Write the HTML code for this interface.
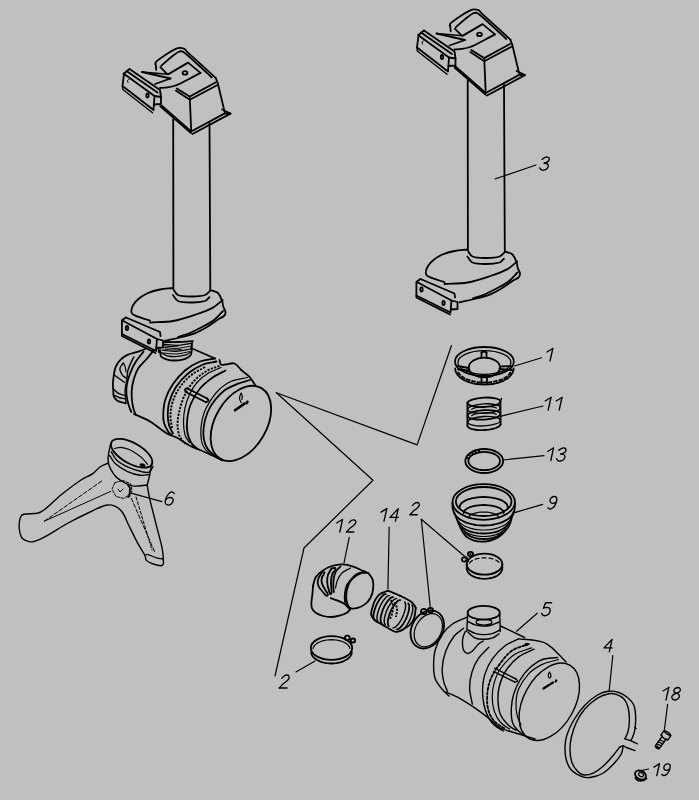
<!DOCTYPE html>
<html><head><meta charset="utf-8">
<style>
html,body{margin:0;padding:0;background:#c0c0c0;}
body{width:699px;height:800px;overflow:hidden;}
svg{display:block;}
.l{fill:none;stroke:#000;stroke-width:1.8;stroke-linejoin:round;stroke-linecap:round;}
.m{fill:none;stroke:#000;stroke-width:1.4;stroke-linejoin:round;stroke-linecap:round;}
.g{fill:none;stroke:#000;stroke-width:1.35;stroke-linejoin:round;stroke-linecap:round;}
.t{fill:none;stroke:#000;stroke-width:1.2;stroke-linecap:round;stroke-linejoin:round;}
.h{fill:none;stroke:#000;stroke-width:1;stroke-linecap:round;}
.d{fill:none;stroke:#000;stroke-width:1.9;stroke-dasharray:2.2 1.3;}
.f{fill:#000;stroke:none;}
.n{font-family:"Liberation Sans",sans-serif;font-style:italic;fill:#111;}
</style></head>
<body>
<svg width="699" height="800" viewBox="0 0 699 800">
<defs><g id="col">
<path class="l" d="M155.2,64.1 C155.5,63.3 155.5,62.2 156.2,61.6 C160.5,58.1 165.2,55.0 170.0,52.0 C172.5,50.5 175.0,48.9 177.8,48.2 C179.8,47.7 182.1,48.0 184.0,48.7 C185.4,49.2 186.0,50.8 187.1,51.8 C196.7,60.6 206.3,69.3 215.9,78.1"/>
<path class="l" d="M215.9,78.1 L217.0,81.5"/>
<path class="l" d="M161.3,65.7 C164.9,62.6 168.3,59.4 172.0,56.5 C174.2,54.8 176.3,52.9 178.8,51.8 C180.1,51.2 181.8,51.1 183.0,51.8 C187.4,54.6 191.1,58.5 195.0,62.0 C200.7,67.1 206.2,72.3 211.8,77.5"/>
<path class="l" d="M155.7,64.1 L156.2,69.8"/>
<path class="l" d="M160.3,67.2 L167.0,73.9"/>
<path class="l" d="M168.0,74.4 L188.1,62.6 L200.5,72.9"/>
<path class="l" d="M200.5,72.9 C197.0,74.8 193.5,76.7 190.0,78.5 C187.0,80.1 184.0,81.8 180.9,83.2 C178.7,84.3 176.4,85.3 174.0,86.0 C171.9,86.6 169.7,87.0 167.5,87.3 C165.0,87.7 162.5,87.8 160.0,88.0"/>
<path class="l" d="M142.0,72.0 L170.5,78.5"/>
<path class="m" d="M142.0,72.0 L168.0,74.2"/>
<path class="l" d="M155.0,84.0 L170.5,78.5"/>
<ellipse class="l" cx="185.0" cy="72.9" rx="2.4" ry="1.7" transform="rotate(0.0 185.0 72.9)"/>
<path class="l" d="M176.8,88.4 L189.6,96.6 L215.9,82.2"/>
<path class="l" d="M175.8,90.6 L189.8,99.7 L217.0,85.3"/>
<path class="l" d="M189.8,98.0 L191.2,131.0"/>
<path class="l" d="M217.6,82.5 L224.7,112.1"/>
<path class="l" d="M160.3,104.4 L191.2,131.4"/>
<path class="l" d="M160.3,106.2 L191.0,133.0"/>
<path class="l" d="M191.2,131.5 L224.7,113.4 L230.5,113.6 L192.5,134.0"/>
<path class="l" d="M222.1,109.5 L230.5,113.6"/>
<path class="l" d="M129.5,69.0 L160.0,90.0 L160.5,93.5"/>
<path class="l" d="M129.5,69.0 L124.0,73.5 L122.5,86.0 L153.5,110.0 L154.5,96.0 L123.5,73.5"/>
<path class="l" d="M126.5,71.0 L157.5,92.5"/>
<path class="m" d="M122.5,86.0 L122.8,89.5 L152.5,112.8"/>
<path class="l" d="M154.5,96.0 L161.0,97.0 L161.0,104.0 L154.0,104.5"/>
<path class="l" d="M161.0,97.0 L160.5,93.5"/>
<path class="h" d="M129.0,79.5 C128.5,79.8 127.7,79.9 127.5,80.5 C127.3,81.2 127.8,81.8 128.0,82.5"/>
<ellipse class="l" cx="147.5" cy="95.5" rx="1.2" ry="2.0" transform="rotate(0.0 147.5 95.5)"/>
<path class="l" d="M173.2,119.5 L173.4,288.0"/>
<path class="l" d="M209.5,123.5 L210.3,290.0"/>
<path class="l" d="M173.0,288.0 C168.7,288.5 164.3,288.6 160.0,289.5 C155.9,290.3 151.8,291.4 148.0,293.0 C144.8,294.4 141.8,296.3 139.0,298.5 C136.9,300.2 134.9,302.2 133.5,304.5 C132.3,306.4 131.4,308.6 131.3,310.9 C131.2,312.2 131.9,313.8 133.0,314.5 C136.7,316.7 141.0,317.6 145.0,319.0 C146.6,319.6 148.3,320.0 150.0,320.5"/>
<path class="l" d="M210.3,290.0 C212.9,291.0 216.0,291.1 218.0,293.0 C220.3,295.2 221.2,298.5 222.3,301.5 C222.9,303.0 222.7,304.8 223.2,306.4 C223.8,308.4 225.3,310.1 225.5,312.2 C225.6,313.6 225.0,315.0 224.0,316.0 C222.6,317.4 220.4,317.9 218.7,319.0 C214.7,321.6 211.0,324.6 207.0,327.0 C203.4,329.2 199.7,331.3 195.8,332.8 C190.7,334.8 185.3,336.1 180.0,337.5 C175.0,338.8 169.9,339.7 164.9,340.8"/>
<path class="l" d="M150.0,322.5 C157.7,322.0 165.4,322.3 173.0,321.0 C180.8,319.6 188.3,317.0 195.8,314.5 C201.7,312.5 207.6,310.5 213.0,307.6 C216.6,305.7 219.5,302.5 222.7,300.0"/>
<path class="l" d="M223.0,311.0 C220.0,314.0 217.4,317.4 214.0,320.0 C210.3,322.8 206.1,324.8 202.0,327.0 C198.1,329.1 194.1,331.3 190.0,333.0 C186.1,334.6 182.0,335.7 178.0,337.0"/>
<path class="l" d="M172.9,295.0 C174.6,297.0 175.6,300.0 178.0,301.0 C182.4,302.7 187.3,302.5 192.0,302.5 C196.4,302.5 200.8,302.2 205.0,301.0 C206.9,300.4 208.0,298.5 209.5,297.3"/>
<path class="l" d="M173.2,289.0 C174.8,291.0 175.6,294.1 178.0,295.0 C182.4,296.7 187.3,296.5 192.0,296.5 C196.4,296.5 200.8,296.3 205.0,295.0 C207.0,294.4 208.3,292.3 210.0,291.0"/>
<path class="l" d="M126.0,317.5 L160.0,332.0 L160.5,336.0"/>
<path class="l" d="M126.0,317.5 L121.9,320.3 L121.9,334.0 L156.0,351.0 L157.0,339.0 L121.9,320.3"/>
<path class="l" d="M121.9,334.0 L121.9,336.0 L155.5,353.0"/>
<path class="l" d="M157.0,339.0 L163.0,340.5 L163.0,347.5 L156.5,348.0"/>
<ellipse class="l" cx="127.0" cy="328.0" rx="1.2" ry="2.0" transform="rotate(0.0 127.0 328.0)"/>
<ellipse class="l" cx="149.0" cy="341.5" rx="1.2" ry="2.0" transform="rotate(0.0 149.0 341.5)"/>
</g></defs>
<use href="#col"/>
<use href="#col" transform="translate(294.5,-38.5)"/>
<path class="l" d="M164.6,342.0 C169.1,342.0 173.5,342.1 178.0,342.0 C183.0,341.9 187.9,341.5 192.9,341.2"/>
<path class="l" d="M160.3,353.2 C160.6,354.3 160.3,355.8 161.2,356.6 C162.8,358.1 165.1,358.9 167.2,359.6 C169.4,360.3 171.7,360.5 174.0,360.5 C176.9,360.5 179.8,360.3 182.6,359.6 C184.7,359.1 186.8,358.2 188.6,357.0 C189.7,356.3 190.9,355.3 191.2,354.0 C192.1,350.4 191.7,346.6 192.0,342.9"/>
<path class="t" d="M161.5,353.0 C163.4,353.9 165.1,355.3 167.2,355.8 C170.0,356.5 172.9,356.7 175.8,356.6 C179.2,356.4 182.7,355.9 186.0,354.9 C187.6,354.4 188.9,353.2 190.3,352.3"/>
<path class="t" d="M163.5,344.2 C167.7,344.6 171.8,345.5 176.0,345.4 C181.4,345.2 186.7,344.0 192.0,343.3"/>
<path class="h" d="M162.9,347.2 C167.3,347.6 171.6,348.6 176.0,348.4 C181.2,348.2 186.3,346.8 191.4,346.0"/>
<path class="t" d="M162.3,350.2 C166.9,350.6 171.4,351.6 176.0,351.4 C181.0,351.2 185.9,349.8 190.8,349.0"/>
<path class="h" d="M161.7,352.8 C166.5,353.2 171.2,354.2 176.0,354.0 C180.8,353.8 185.5,352.3 190.2,351.5"/>
<path class="h" d="M163.0,345.5 C165.3,345.8 167.6,346.4 170.0,346.5 C172.7,346.6 175.3,346.2 178.0,346.0"/>
<path class="h" d="M165.0,349.0 C167.3,349.3 169.6,349.9 172.0,350.0 C175.0,350.1 178.0,349.7 181.0,349.5"/>
<path class="f" d="M157.7,348.9 L161.2,349.5 L161.0,353.2 L158.0,352.8Z"/>
<ellipse class="l" cx="240.9" cy="423.4" rx="25.7" ry="40.8" transform="rotate(30.2 240.9 423.4)"/>
<path class="l" d="M250.0,380.0 C245.8,381.3 241.5,382.2 237.5,383.8 C233.2,385.5 228.8,387.3 225.0,390.0 C221.2,392.8 217.9,396.3 215.0,400.0 C212.0,403.8 209.4,408.0 207.5,412.5 C205.6,416.9 204.5,421.6 203.8,426.3 C203.2,430.4 203.1,434.7 203.8,438.8 C204.4,442.3 205.6,445.8 207.5,448.8 C209.0,451.3 211.5,453.2 213.8,455.0 C216.3,457.0 219.3,458.3 222.0,460.0"/>
<path class="t" d="M247.5,377.5 C242.1,378.8 236.4,379.1 231.3,381.3 C226.6,383.3 222.5,386.5 218.8,390.0 C215.3,393.3 212.6,397.3 210.0,401.3 C207.6,405.0 205.4,408.9 204.0,413.0 C202.4,417.7 201.4,422.6 201.0,427.5 C200.6,432.0 200.7,436.6 201.5,441.0 C202.0,443.9 203.4,446.6 205.0,449.0 C206.6,451.3 209.0,453.0 211.0,455.0"/>
<path class="l" d="M219.5,360.0 C220.0,361.5 219.7,363.6 221.0,364.5 C222.2,365.4 224.0,364.6 225.5,364.5 C228.5,364.3 231.6,362.5 234.5,363.5 C237.5,364.5 239.0,367.9 241.3,370.0 C244.1,372.6 247.4,374.7 250.0,377.5 C252.2,379.9 253.7,382.9 255.6,385.6"/>
<path class="d" d="M219.5,366.0 C215.5,367.5 211.2,368.3 207.5,370.5 C202.6,373.4 197.9,376.8 194.0,381.0 C190.3,384.9 187.4,389.7 185.0,394.5 C182.6,399.2 181.1,404.4 179.8,409.5 C178.6,414.4 177.5,419.4 177.5,424.5 C177.5,428.6 178.3,432.7 179.8,436.5 C180.9,439.3 183.3,441.5 185.0,444.0"/>
<path class="t" d="M221.0,367.5 C217.0,369.3 212.7,370.5 209.0,372.8 C204.6,375.5 200.4,378.7 197.0,382.5 C193.8,386.0 191.5,390.2 189.5,394.5 C187.5,398.8 186.0,403.4 185.0,408.0 C184.0,412.4 183.5,417.0 183.5,421.5 C183.5,426.0 183.8,430.6 185.0,435.0 C185.8,437.8 188.0,440.0 189.5,442.5"/>
<path class="l" d="M225.5,370.5 C221.0,373.0 216.2,375.0 212.0,378.0 C207.7,381.1 203.4,384.4 200.0,388.5 C196.3,393.0 193.3,398.1 191.0,403.5 C189.0,408.2 188.0,413.4 187.3,418.5 C186.7,423.0 186.6,427.6 187.3,432.0 C187.9,435.7 189.1,439.3 191.0,442.5 C192.4,444.9 195.0,446.5 197.0,448.5"/>
<path class="l" d="M215.0,358.5 C210.0,359.5 204.7,359.6 200.0,361.5 C194.6,363.7 189.5,366.8 185.0,370.5 C180.4,374.4 176.4,379.0 173.0,384.0 C169.8,388.6 167.3,393.7 165.5,399.0 C164.0,403.3 163.6,407.9 163.3,412.5 C163.1,416.0 163.1,419.6 164.0,423.0 C164.9,426.2 166.7,429.2 168.5,432.0 C169.2,433.2 170.5,434.0 171.5,435.0"/>
<path class="l" d="M216.5,361.5 C212.0,362.5 207.2,362.7 203.0,364.5 C197.6,366.8 192.5,369.8 188.0,373.5 C183.4,377.4 179.3,382.0 176.0,387.0 C173.0,391.6 170.8,396.7 169.3,402.0 C168.0,406.4 167.8,411.0 167.8,415.5 C167.8,419.0 168.3,422.6 169.3,426.0 C170.1,428.7 171.8,431.0 173.0,433.5"/>
<path class="d" d="M205.0,367.0 C200.0,370.0 194.4,372.2 190.0,376.0 C185.3,380.0 181.3,384.8 178.0,390.0 C175.3,394.3 173.4,399.1 172.0,404.0 C170.8,408.2 170.5,412.6 170.5,417.0 C170.5,420.7 171.5,424.3 172.0,428.0"/>
<path class="l" d="M187.0,388.2 L207.2,398.5"/>
<path class="l" d="M185.8,392.0 L206.0,402.2"/>
<path class="l" d="M187.0,388.2 C186.3,388.6 185.2,388.7 185.0,389.5 C184.7,390.3 185.5,391.2 185.8,392.0"/>
<path class="l" d="M207.2,398.5 C207.6,399.2 208.7,399.7 208.5,400.5 C208.2,401.5 206.8,401.6 206.0,402.2"/>
<path class="l" d="M191.0,348.0 L215.0,358.5"/>
<path class="l" d="M143.5,351.6 C140.9,355.1 137.9,358.4 135.6,362.1 C133.5,365.4 131.8,369.0 130.4,372.6 C128.9,376.3 127.6,380.1 126.9,384.0 C126.3,387.4 126.2,391.0 126.5,394.5 C126.8,398.1 127.7,401.6 128.6,405.0 C129.3,407.4 130.4,409.7 131.3,412.0"/>
<path class="l" d="M154.0,349.9 C151.4,353.1 148.9,356.4 146.2,359.5 C143.6,362.5 140.4,365.0 138.3,368.3 C136.3,371.5 135.0,375.2 133.9,378.8 C132.7,382.8 132.0,386.9 131.7,391.0 C131.4,394.5 131.7,398.0 132.1,401.5 C132.4,404.5 133.1,407.4 133.9,410.3 C134.4,411.9 135.3,413.4 136.0,415.0"/>
<path class="l" d="M134.0,414.0 C139.3,416.5 144.9,418.5 150.0,421.5 C156.0,425.0 161.1,429.9 167.0,433.5 C170.3,435.5 174.1,436.2 177.5,438.0 C181.7,440.2 185.3,443.3 189.5,445.5 C192.9,447.3 196.5,448.5 200.0,450.0 C204.5,452.0 209.0,453.9 213.5,456.0 C216.5,457.4 219.5,459.0 222.5,460.5"/>
<path class="l" d="M145.3,349.0 C143.0,349.9 140.7,350.8 138.3,351.6 C134.5,352.9 130.5,353.4 126.9,355.1 C124.3,356.4 121.9,358.3 119.9,360.4 C118.0,362.4 116.5,364.8 115.5,367.4 C114.5,369.9 114.2,372.6 113.8,375.3 C113.4,377.9 113.0,380.6 112.9,383.2 C112.8,385.8 113.1,388.4 113.3,391.0 C113.4,392.8 113.1,394.7 113.8,396.3 C114.5,398.0 115.8,399.6 117.3,400.7 C118.8,401.7 120.8,401.9 122.5,402.4 C123.7,402.7 124.8,403.0 126.0,403.3"/>
<path class="m" d="M114.6,375.3 L124.3,382.3"/>
<path class="m" d="M113.8,389.3 C115.5,390.8 117.0,392.6 119.0,393.7 C120.6,394.6 122.5,394.8 124.3,395.4"/>
<path class="m" d="M114.6,395.4 C116.1,396.1 117.5,397.0 119.0,397.5 C121.0,398.2 123.1,398.4 125.1,398.9"/>
<path class="m" d="M123.4,363.0 C122.2,364.8 120.1,366.2 119.9,368.3 C119.7,370.8 121.2,373.2 122.5,375.3 C123.3,376.5 124.8,377.0 126.0,377.9"/>
<path class="t" d="M123.4,363.0 C124.0,364.2 124.7,365.3 125.1,366.5 C125.6,368.2 125.7,370.0 126.0,371.8"/>
<path class="m" d="M133.9,356.9 C132.7,359.2 131.4,361.5 130.4,363.9 C129.4,366.2 128.4,368.5 127.8,370.9 C127.2,373.5 127.3,376.2 126.9,378.8 C126.4,382.9 125.3,386.9 125.1,391.0 C125.0,394.8 125.7,398.6 126.0,402.4"/>
<path class="t" d="M241.2,393.2 C240.7,394.3 240.1,395.3 239.8,396.5 C239.6,397.4 239.4,398.3 239.6,399.2 C239.9,400.4 240.7,401.3 241.2,402.4"/>
<path class="t" d="M241.2,393.2 C241.6,394.3 242.2,395.3 242.3,396.5 C242.4,397.5 242.0,398.5 241.8,399.5"/>
<path class="l" d="M235.0,410.3 L244.5,403.6" style="stroke-width:2.6"/>
<ellipse class="f" cx="247.0" cy="402.5" rx="1.4" ry="2.2" transform="rotate(30.0 247.0 402.5)"/>
<ellipse class="l" cx="484.4" cy="361.5" rx="29.4" ry="14.5" transform="rotate(0.0 484.4 361.5)"/>
<ellipse class="t" cx="484.4" cy="362.5" rx="26.5" ry="11.8" transform="rotate(0.0 484.4 362.5)"/>
<path class="l" d="M513.6,368.5 L513.4,370.6 L512.6,372.6 L511.4,374.6 L509.7,376.5 L507.6,378.2 L505.0,379.8 L502.2,381.2 L499.0,382.4 L495.6,383.3 L492.0,384.0 L488.2,384.4 L484.4,384.5 L480.6,384.4 L476.8,384.0 L473.2,383.3 L469.8,382.4 L466.6,381.2 L463.8,379.8 L461.2,378.2 L459.1,376.5 L457.4,374.6 L456.2,372.6 L455.4,370.6 L455.2,368.5"/>
<ellipse class="l" cx="484.4" cy="367.5" rx="15.6" ry="9.8" transform="rotate(0.0 484.4 367.5)"/>
<path class="l" d="M481.5,352.5 L481.5,357.5"/>
<path class="l" d="M486.5,352.5 L486.5,357.5"/>
<path class="l" d="M481.5,352.5 C482.3,352.2 483.1,351.5 484.0,351.5 C484.9,351.5 485.7,352.2 486.5,352.5"/>
<path class="l" d="M458.0,366.0 L468.5,368.0"/>
<path class="l" d="M458.0,369.5 L469.0,370.5"/>
<path class="l" d="M499.5,369.0 L512.0,370.0"/>
<path class="l" d="M500.0,366.5 L511.0,366.0"/>
<path class="l" d="M481.5,376.0 L481.5,384.0"/>
<path class="l" d="M487.0,376.0 L487.0,384.0"/>
<path class="l" d="M510.5,372.5 L509.6,373.9 L508.3,375.2 L506.8,376.5 L505.1,377.7 L503.1,378.8 L500.8,379.7 L498.4,380.5 L495.8,381.2 L493.1,381.8 L490.2,382.2 L487.3,382.4 L484.4,382.5 L481.5,382.4 L478.6,382.2 L475.7,381.8 L473.0,381.2 L470.4,380.5 L468.0,379.7 L465.7,378.8 L463.7,377.7 L462.0,376.5 L460.5,375.2 L459.2,373.9 L458.3,372.5" stroke-dasharray="3 2.5"/>
<path class="t" d="M508.2,378.2 L506.9,379.2 L505.5,380.0 L503.8,380.8 L502.1,381.6 L500.2,382.2 L498.1,382.8 L496.0,383.3 L493.8,383.7 L491.5,384.1 L489.2,384.3 L486.8,384.5 L484.4,384.5 L482.0,384.5 L479.6,384.3 L477.3,384.1 L475.0,383.7 L472.8,383.3 L470.6,382.8 L468.6,382.2 L466.7,381.6 L465.0,380.8 L463.3,380.0 L461.9,379.2 L460.6,378.2" stroke-dasharray="2 3"/>
<path class="l" d="M467.4,402.5 L467.4,425.5"/>
<path class="l" d="M500.4,401.5 L500.6,424.5"/>
<ellipse class="l" cx="484.0" cy="402.3" rx="16.4" ry="4.7" transform="rotate(-3.0 484.0 402.3)"/>
<ellipse class="m" cx="484.0" cy="408.6" rx="16.4" ry="4.7" transform="rotate(-3.0 484.0 408.6)"/>
<ellipse class="l" cx="484.0" cy="414.9" rx="16.4" ry="4.7" transform="rotate(-3.0 484.0 414.9)"/>
<ellipse class="m" cx="484.0" cy="421.2" rx="16.4" ry="4.7" transform="rotate(-3.0 484.0 421.2)"/>
<path class="l" d="M500.4,424.3 L500.3,425.0 L499.9,425.6 L499.2,426.2 L498.3,426.9 L497.1,427.4 L495.8,428.0 L494.2,428.5 L492.4,428.9 L490.5,429.3 L488.5,429.6 L486.4,429.8 L484.3,430.0 L482.1,430.1 L480.0,430.1 L478.0,430.0 L476.0,429.8 L474.2,429.5 L472.6,429.2 L471.2,428.8 L469.9,428.3 L469.0,427.8 L468.2,427.3 L467.8,426.7 L467.6,426.1"/>
<path class="t" d="M471.7,409.4 L472.0,409.1 L472.5,408.8 L473.1,408.5 L473.9,408.2 L474.8,407.9 L475.9,407.6 L477.0,407.4 L478.3,407.2 L479.6,407.0 L481.0,406.8 L482.4,406.7 L483.9,406.6 L485.3,406.5 L486.7,406.5 L488.1,406.5 L489.5,406.6 L490.7,406.7 L491.9,406.8 L493.0,406.9 L493.9,407.1 L494.7,407.3 L495.4,407.6 L495.9,407.8 L496.3,408.1"/>
<path class="t" d="M471.7,415.7 L472.0,415.4 L472.5,415.1 L473.1,414.8 L473.9,414.5 L474.8,414.2 L475.9,413.9 L477.0,413.7 L478.3,413.5 L479.6,413.3 L481.0,413.1 L482.4,413.0 L483.9,412.9 L485.3,412.8 L486.7,412.8 L488.1,412.8 L489.5,412.9 L490.7,413.0 L491.9,413.1 L493.0,413.2 L493.9,413.4 L494.7,413.6 L495.4,413.9 L495.9,414.1 L496.3,414.4"/>
<path class="m" d="M500.5,401.0 L501.5,398.5"/>
<ellipse class="l" cx="484.2" cy="461.0" rx="18.9" ry="12.0" transform="rotate(0.0 484.2 461.0)"/>
<ellipse class="l" cx="484.2" cy="461.0" rx="15.8" ry="9.2" transform="rotate(0.0 484.2 461.0)"/>
<path class="d" d="M467.2,459.2 L467.3,458.6 L467.6,458.1 L467.8,457.6 L468.1,457.1 L468.5,456.6 L468.9,456.1 L469.3,455.6 L469.7,455.2 L470.2,454.7 L470.8,454.3 L471.4,453.9 L472.0,453.5 L472.6,453.1 L473.3,452.8 L474.0,452.5 L474.7,452.1 L475.4,451.9 L476.2,451.6 L477.0,451.4 L477.8,451.1 L478.6,451.0 L479.5,450.8 L480.3,450.7 L481.2,450.6"/>
<ellipse class="l" cx="483.7" cy="502.0" rx="31.2" ry="17.8" transform="rotate(0.0 483.7 502.0)"/>
<ellipse class="l" cx="483.7" cy="501.5" rx="27.8" ry="14.5" transform="rotate(0.0 483.7 501.5)"/>
<path class="l" d="M459.7,507.0 L459.9,505.7 L460.5,504.4 L461.5,503.2 L462.9,502.0 L464.7,500.9 L466.7,499.9 L469.1,499.1 L471.7,498.3 L474.5,497.8 L477.5,497.3 L480.6,497.1 L483.7,497.0 L486.8,497.1 L489.9,497.3 L492.9,497.8 L495.7,498.3 L498.3,499.1 L500.7,499.9 L502.7,500.9 L504.5,502.0 L505.9,503.2 L506.9,504.4 L507.5,505.7 L507.7,507.0"/>
<path class="l" d="M463.7,513.0 L463.9,512.0 L464.4,510.9 L465.2,509.9 L466.4,509.0 L467.8,508.1 L469.6,507.3 L471.5,506.7 L473.7,506.1 L476.0,505.6 L478.5,505.3 L481.1,505.1 L483.7,505.0 L486.3,505.1 L488.9,505.3 L491.4,505.6 L493.7,506.1 L495.9,506.7 L497.8,507.3 L499.6,508.1 L501.0,509.0 L502.2,509.9 L503.0,510.9 L503.5,512.0 L503.7,513.0"/>
<path class="t" d="M468.7,518.0 L468.8,517.2 L469.2,516.4 L469.8,515.7 L470.7,515.0 L471.8,514.3 L473.1,513.8 L474.6,513.2 L476.2,512.8 L478.0,512.5 L479.8,512.2 L481.7,512.1 L483.7,512.0 L485.7,512.1 L487.6,512.2 L489.4,512.5 L491.2,512.8 L492.8,513.2 L494.3,513.8 L495.6,514.3 L496.7,515.0 L497.6,515.7 L498.2,516.4 L498.6,517.2 L498.7,518.0"/>
<path class="l" d="M452.4,503.0 C452.5,505.0 452.3,507.1 452.8,509.0 C453.5,511.8 454.9,514.3 456.0,517.0 C457.5,520.7 458.7,524.5 460.6,528.0 C462.5,531.4 464.2,535.4 467.5,537.6 C471.5,540.2 476.4,541.7 481.2,541.7 C486.9,541.7 492.7,540.3 497.7,537.6 C502.2,535.1 505.7,530.9 508.7,526.6 C510.6,523.8 510.9,520.2 512.0,517.0 C512.8,514.7 514.0,512.4 514.5,510.0 C515.0,507.7 514.8,505.3 514.9,503.0"/>
<path class="l" d="M513.7,511.9 L512.9,513.7 L511.7,515.5 L510.1,517.2 L508.2,518.9 L505.9,520.3 L503.3,521.6 L500.5,522.8 L497.4,523.7 L494.1,524.5 L490.7,525.1 L487.2,525.4 L483.7,525.5 L480.2,525.4 L476.7,525.1 L473.3,524.5 L470.0,523.7 L466.9,522.8 L464.1,521.6 L461.5,520.3 L459.2,518.9 L457.3,517.2 L455.7,515.5 L454.5,513.7 L453.7,511.9"/>
<path class="t" d="M511.3,517.6 L510.5,519.3 L509.4,520.9 L507.9,522.5 L506.2,524.0 L504.1,525.3 L501.7,526.5 L499.1,527.5 L496.3,528.4 L493.3,529.1 L490.2,529.6 L487.0,529.9 L483.7,530.0 L480.4,529.9 L477.2,529.6 L474.1,529.1 L471.1,528.4 L468.3,527.5 L465.7,526.5 L463.3,525.3 L461.2,524.0 L459.5,522.5 L458.0,520.9 L456.9,519.3 L456.1,517.6"/>
<path class="l" d="M508.8,522.3 L508.1,523.9 L507.1,525.3 L505.8,526.8 L504.2,528.1 L502.2,529.3 L500.1,530.3 L497.7,531.3 L495.1,532.1 L492.4,532.7 L489.6,533.1 L486.7,533.4 L483.7,533.5 L480.7,533.4 L477.8,533.1 L475.0,532.7 L472.3,532.1 L469.7,531.3 L467.3,530.3 L465.2,529.3 L463.2,528.1 L461.6,526.8 L460.3,525.3 L459.3,523.9 L458.6,522.3"/>
<path class="t" d="M505.4,528.0 L504.7,529.2 L503.7,530.3 L502.4,531.4 L500.9,532.4 L499.3,533.3 L497.4,534.1 L495.4,534.8 L493.2,535.4 L490.9,535.9 L488.6,536.2 L486.1,536.4 L483.7,536.5 L481.3,536.4 L478.8,536.2 L476.5,535.9 L474.2,535.4 L472.0,534.8 L470.0,534.1 L468.1,533.3 L466.5,532.4 L465.0,531.4 L463.7,530.3 L462.7,529.2 L462.0,528.0"/>
<path class="l" d="M502.5,531.6 L501.9,532.6 L501.0,533.6 L499.9,534.6 L498.6,535.4 L497.2,536.2 L495.6,536.9 L493.8,537.5 L491.9,538.1 L490.0,538.5 L487.9,538.8 L485.8,538.9 L483.7,539.0 L481.6,538.9 L479.5,538.8 L477.4,538.5 L475.5,538.1 L473.6,537.5 L471.8,536.9 L470.2,536.2 L468.8,535.4 L467.5,534.6 L466.4,533.6 L465.5,532.6 L464.9,531.6"/>
<ellipse class="l" cx="484.5" cy="564.2" rx="17.8" ry="10.5" transform="rotate(0.0 484.5 564.2)"/>
<path class="l" d="M502.3,568.2 L502.1,569.6 L501.7,570.9 L500.9,572.3 L499.9,573.5 L498.6,574.7 L497.1,575.7 L495.3,576.6 L493.4,577.4 L491.3,578.0 L489.1,578.4 L486.8,578.7 L484.5,578.8 L482.2,578.7 L479.9,578.4 L477.7,578.0 L475.6,577.4 L473.7,576.6 L471.9,575.7 L470.4,574.7 L469.1,573.5 L468.1,572.3 L467.3,570.9 L466.9,569.6 L466.7,568.2"/>
<path class="l" d="M466.7,564.2 L466.7,568.2"/>
<path class="l" d="M502.3,564.2 L502.3,568.2"/>
<path class="t" d="M469.5,563.1 L470.1,562.4 L470.8,561.7 L471.6,561.0 L472.6,560.4 L473.8,559.8 L475.1,559.3 L476.5,558.8 L477.9,558.5 L479.5,558.2 L481.1,558.0 L482.8,557.8 L484.5,557.8 L486.2,557.8 L487.9,558.0 L489.5,558.2 L491.1,558.5 L492.5,558.8 L493.9,559.3 L495.2,559.8 L496.4,560.4 L497.4,561.0 L498.2,561.7 L498.9,562.4 L499.5,563.1" stroke-dasharray="4 3"/>
<ellipse class="l" cx="470.5" cy="554.0" rx="2.6" ry="2.2" transform="rotate(0.0 470.5 554.0)"/>
<ellipse class="l" cx="464.2" cy="559.5" rx="2.3" ry="2.1" transform="rotate(0.0 464.2 559.5)"/>
<ellipse class="f" cx="470.5" cy="554.0" rx="1.2" ry="1.0" transform="rotate(0.0 470.5 554.0)"/>
<path class="m" d="M466.5,557.0 L468.5,561.5"/>
<path class="l" d="M313.0,585.9 C313.9,583.0 314.1,579.9 315.7,577.3 C317.3,574.7 319.7,572.6 322.2,570.9 C325.1,568.8 328.4,567.1 331.8,566.0 C335.3,564.9 339.0,564.3 342.6,564.4 C346.2,564.5 349.8,565.5 353.3,566.6 C356.6,567.7 359.7,569.5 362.9,570.9 C364.7,571.7 366.5,572.3 368.3,573.0"/>
<path class="l" d="M368.3,573.0 C369.7,575.2 371.9,577.0 372.6,579.5 C373.5,582.6 373.5,585.9 373.1,589.1 C372.8,592.1 371.9,595.1 370.5,597.7 C369.2,600.2 367.3,602.4 365.1,604.1 C362.9,605.8 360.3,607.1 357.6,607.9 C355.5,608.5 353.2,609.0 351.1,608.4 C349.6,608.0 348.6,606.5 347.9,605.2 C346.9,603.2 346.5,601.0 346.3,598.8 C346.1,595.9 346.2,593.0 346.8,590.2 C347.5,587.2 348.5,584.2 350.1,581.6 C351.4,579.5 353.4,577.7 355.4,576.2 C357.4,574.8 359.6,573.6 361.9,573.0 C364.0,572.5 366.2,573.0 368.3,573.0"/>
<path class="l" d="M362.9,572.0 C360.6,572.8 358.1,573.2 356.0,574.5 C354.0,575.8 352.6,577.7 351.1,579.5 C349.6,581.2 348.0,583.0 347.0,585.0 C346.1,586.9 345.7,589.0 345.3,591.0 C344.9,593.2 344.7,595.5 344.7,597.7 C344.7,599.5 344.8,601.3 345.5,603.0 C346.3,605.0 347.8,606.6 349.0,608.4"/>
<path class="t" d="M361.0,573.2 C358.7,574.3 356.0,574.9 354.0,576.5 C352.1,577.9 350.7,579.9 349.5,582.0 C348.5,583.8 348.2,586.0 347.5,588.0"/>
<path class="l" d="M313.0,585.9 C312.8,588.4 312.7,590.9 312.5,593.4 C312.2,596.6 311.5,599.8 311.4,603.1 C311.3,604.9 311.3,606.8 312.0,608.4 C312.8,610.1 314.1,611.6 315.7,612.7 C318.0,614.2 320.6,615.3 323.2,616.0 C326.0,616.7 328.9,617.1 331.8,617.0 C334.7,616.9 337.6,616.2 340.4,615.4 C342.6,614.8 344.8,613.9 346.8,612.7 C348.1,611.9 349.0,610.6 350.1,609.5"/>
<path class="l" d="M330.8,598.2 C332.9,598.9 335.1,599.5 337.2,600.4 C339.8,601.5 342.4,602.6 344.7,604.1 C346.0,604.9 346.8,606.3 347.9,607.4"/>
<path class="l" d="M322.2,572.0 C320.8,574.5 318.7,576.7 318.0,579.5 C317.4,581.6 317.7,584.0 318.5,586.0 C319.3,588.1 320.9,589.8 322.5,591.5 C324.0,593.1 325.8,596.9 327.5,595.6 C329.2,594.2 325.9,591.5 325.0,589.5 C324.1,587.5 322.6,585.7 322.0,583.5 C321.5,581.7 321.4,579.8 321.8,578.0 C322.3,576.0 324.4,574.5 324.5,572.5 C324.6,571.7 323.0,572.2 322.2,572.0"/>
<path class="l" d="M331.5,568.5 C330.3,570.8 328.5,573.0 327.8,575.5 C327.1,577.9 327.1,580.5 327.3,583.0 C327.5,585.4 328.0,587.7 328.8,590.0 C329.3,591.4 329.8,595.0 331.0,594.0 C332.6,592.7 331.3,590.0 331.3,588.0 C331.3,585.7 330.9,583.3 331.0,581.0 C331.2,578.6 331.4,576.2 332.2,574.0 C332.9,572.0 335.8,570.6 335.5,568.5 C335.3,567.2 332.8,568.5 331.5,568.5"/>
<path class="l" d="M340.5,566.5 C338.9,568.2 337.0,569.5 335.8,571.5 C334.7,573.5 334.2,575.8 333.8,578.0 C333.4,580.3 333.3,582.7 333.3,585.0 C333.3,587.3 333.6,589.7 333.8,592.0"/>
<path class="t" d="M350.5,568.0 C347.7,569.7 344.4,570.8 342.0,573.0 C340.0,574.9 338.6,577.5 337.5,580.0 C336.4,582.5 336.2,585.3 335.5,588.0"/>
<path class="l" d="M387.7,590.7 C391.9,592.4 396.2,593.9 400.3,595.9 C404.2,597.8 408.3,599.6 411.8,602.2 C413.3,603.3 414.1,605.2 415.2,606.7 C415.5,607.1 415.6,607.5 415.8,607.9"/>
<path class="l" d="M387.7,590.7 C385.0,591.9 382.0,592.5 379.7,594.2 C377.8,595.6 376.4,597.8 375.2,599.9 C373.9,602.4 373.0,605.2 372.3,607.9 C371.7,610.1 370.7,612.5 371.2,614.8 C371.7,617.1 373.5,618.9 375.2,620.5 C376.8,622.0 379.0,622.8 380.9,623.9 C383.6,625.5 386.2,627.0 388.9,628.5 C391.2,629.7 393.3,631.4 395.8,631.9 C397.3,632.2 398.9,631.5 400.3,630.8 C403.5,629.2 406.8,627.5 409.5,625.1 C411.5,623.2 413.1,620.8 414.1,618.2 C415.3,614.9 415.2,611.3 415.8,607.9"/>
<path class="l" d="M374.4,620.0 L374.0,619.5 L373.7,618.8 L373.5,618.0 L373.4,617.0 L373.4,615.9 L373.5,614.6 L373.7,613.2 L374.1,611.7 L374.5,610.2 L375.0,608.6 L375.6,606.9 L376.3,605.3 L377.0,603.7 L377.8,602.2 L378.7,600.8 L379.5,599.4 L380.4,598.2 L381.3,597.1 L382.2,596.1 L383.0,595.3 L383.8,594.7 L384.6,594.3 L385.3,594.1 L385.9,594.1"/>
<path class="m" d="M378.0,621.5 L377.6,621.0 L377.3,620.3 L377.1,619.5 L377.0,618.5 L377.0,617.4 L377.1,616.1 L377.3,614.7 L377.7,613.2 L378.1,611.7 L378.6,610.1 L379.2,608.4 L379.9,606.8 L380.6,605.2 L381.4,603.7 L382.3,602.3 L383.1,600.9 L384.0,599.7 L384.9,598.6 L385.8,597.6 L386.6,596.8 L387.4,596.2 L388.2,595.8 L388.9,595.6 L389.5,595.6"/>
<path class="l" d="M381.6,623.0 L381.2,622.5 L380.9,621.8 L380.7,621.0 L380.6,620.0 L380.6,618.9 L380.7,617.6 L380.9,616.2 L381.3,614.7 L381.7,613.2 L382.2,611.6 L382.8,609.9 L383.5,608.3 L384.2,606.7 L385.0,605.2 L385.9,603.8 L386.7,602.4 L387.6,601.2 L388.5,600.1 L389.4,599.1 L390.2,598.3 L391.0,597.7 L391.8,597.3 L392.5,597.1 L393.1,597.1"/>
<path class="m" d="M385.2,624.5 L384.8,624.0 L384.5,623.3 L384.3,622.5 L384.2,621.5 L384.2,620.4 L384.3,619.1 L384.5,617.7 L384.9,616.2 L385.3,614.7 L385.8,613.1 L386.4,611.4 L387.1,609.8 L387.8,608.2 L388.6,606.7 L389.5,605.3 L390.3,603.9 L391.2,602.7 L392.1,601.6 L393.0,600.6 L393.8,599.8 L394.6,599.2 L395.4,598.8 L396.1,598.6 L396.7,598.6"/>
<path class="l" d="M388.8,626.0 L388.4,625.5 L388.1,624.8 L387.9,624.0 L387.8,623.0 L387.8,621.9 L387.9,620.6 L388.1,619.2 L388.5,617.7 L388.9,616.2 L389.4,614.6 L390.0,612.9 L390.7,611.3 L391.4,609.7 L392.2,608.2 L393.1,606.8 L393.9,605.4 L394.8,604.2 L395.7,603.1 L396.6,602.1 L397.4,601.3 L398.2,600.7 L399.0,600.3 L399.7,600.1 L400.3,600.1"/>
<path class="m" d="M404.6,601.9 L405.0,602.4 L405.3,603.1 L405.5,603.9 L405.6,604.9 L405.6,606.0 L405.5,607.3 L405.3,608.7 L404.9,610.2 L404.5,611.7 L404.0,613.3 L403.4,615.0 L402.7,616.6 L402.0,618.2 L401.2,619.7 L400.3,621.1 L399.5,622.5 L398.6,623.7 L397.7,624.8 L396.8,625.8 L396.0,626.6 L395.2,627.2 L394.4,627.6 L393.7,627.8 L393.1,627.8"/>
<path class="l" d="M408.2,603.4 L408.6,603.9 L408.9,604.6 L409.1,605.4 L409.2,606.4 L409.2,607.5 L409.1,608.8 L408.9,610.2 L408.5,611.7 L408.1,613.2 L407.6,614.8 L407.0,616.5 L406.3,618.1 L405.6,619.7 L404.8,621.2 L403.9,622.6 L403.1,624.0 L402.2,625.2 L401.3,626.3 L400.4,627.3 L399.6,628.1 L398.8,628.7 L398.0,629.1 L397.3,629.3 L396.7,629.3"/>
<path class="m" d="M411.8,604.9 L412.2,605.4 L412.5,606.1 L412.7,606.9 L412.8,607.9 L412.8,609.0 L412.7,610.3 L412.5,611.7 L412.1,613.2 L411.7,614.7 L411.2,616.3 L410.6,618.0 L409.9,619.6 L409.2,621.2 L408.4,622.7 L407.5,624.1 L406.7,625.5 L405.8,626.7 L404.9,627.8 L404.0,628.8 L403.2,629.6 L402.4,630.2 L401.6,630.6 L400.9,630.8 L400.3,630.8"/>
<path class="d" d="M391.0,600.0 C391.7,602.0 392.8,603.9 393.0,606.0 C393.2,608.7 392.6,611.4 392.0,614.0 C391.6,615.7 390.7,617.3 390.0,619.0"/>
<path class="d" d="M395.0,602.0 C395.7,604.3 396.8,606.6 397.0,609.0 C397.2,611.7 396.3,614.3 396.0,617.0"/>
<ellipse class="l" cx="427.3" cy="629.4" rx="15.5" ry="20.1" transform="rotate(30.1 427.3 629.4)"/>
<ellipse class="t" cx="428.3" cy="630.2" rx="12.8" ry="17.6" transform="rotate(30.1 428.3 630.2)"/>
<ellipse class="l" cx="423.8" cy="611.5" rx="2.8" ry="2.6" transform="rotate(0.0 423.8 611.5)"/>
<ellipse class="l" cx="430.5" cy="610.2" rx="2.5" ry="2.3" transform="rotate(0.0 430.5 610.2)"/>
<ellipse class="l" cx="331.5" cy="648.0" rx="20.7" ry="11.8" transform="rotate(0.0 331.5 648.0)"/>
<path class="l" d="M351.9,652.5 L351.5,654.0 L350.9,655.4 L349.9,656.8 L348.6,658.1 L347.1,659.3 L345.3,660.3 L343.4,661.3 L341.2,662.1 L338.9,662.7 L336.5,663.1 L334.0,663.4 L331.5,663.5 L329.0,663.4 L326.5,663.1 L324.1,662.7 L321.8,662.1 L319.6,661.3 L317.7,660.3 L315.9,659.3 L314.4,658.1 L313.1,656.8 L312.1,655.4 L311.5,654.0 L311.1,652.5"/>
<path class="t" d="M313.1,648.6 L313.4,647.4 L314.0,646.3 L314.9,645.2 L316.0,644.1 L317.4,643.1 L319.0,642.3 L320.8,641.5 L322.7,640.9 L324.8,640.4 L327.0,640.0 L329.2,639.8 L331.5,639.7 L333.8,639.8 L336.0,640.0 L338.2,640.4 L340.3,640.9 L342.2,641.5 L344.0,642.3 L345.6,643.1 L347.0,644.1 L348.1,645.2 L349.0,646.3 L349.6,647.4 L349.9,648.6"/>
<ellipse class="l" cx="347.3" cy="637.9" rx="2.4" ry="2.2" transform="rotate(0.0 347.3 637.9)"/>
<ellipse class="l" cx="353.0" cy="640.5" rx="2.2" ry="2.0" transform="rotate(0.0 353.0 640.5)"/>
<ellipse class="m" cx="549.3" cy="701.8" rx="25.5" ry="41.9" transform="rotate(29.2 549.3 701.8)"/>
<ellipse class="l" cx="483.7" cy="612.8" rx="16.1" ry="6.9" transform="rotate(0.0 483.7 612.8)"/>
<ellipse class="t" cx="484.0" cy="622.2" rx="8.0" ry="2.8" transform="rotate(0.0 484.0 622.2)"/>
<path class="m" d="M467.6,614.0 L466.8,631.5"/>
<path class="m" d="M499.8,614.5 L500.2,631.5"/>
<path class="m" d="M468.0,621.5 C470.3,622.6 472.5,624.0 475.0,624.8 C477.4,625.6 480.0,625.9 482.5,626.0 C485.3,626.1 488.2,625.9 491.0,625.2 C493.8,624.5 496.3,623.1 499.0,622.0"/>
<path class="m" d="M468.0,630.0 C470.3,631.1 472.5,632.6 475.0,633.3 C477.7,634.1 480.5,634.6 483.3,634.6 C486.2,634.7 489.2,634.4 492.0,633.6 C494.8,632.8 497.2,631.2 499.8,630.0"/>
<path class="m" d="M468.0,632.3 C470.2,634.1 472.1,636.6 474.7,637.8 C477.3,639.0 480.4,639.3 483.3,639.3 C486.5,639.3 489.8,638.9 492.8,637.8 C495.1,637.0 496.9,635.1 499.0,633.8"/>
<path class="m" d="M465.2,631.5 C464.4,633.6 463.4,635.6 462.9,637.8 C462.5,639.8 462.4,641.9 462.5,644.0 C462.6,646.2 462.7,648.5 463.7,650.4 C464.5,651.9 465.9,653.4 467.6,653.5 C469.4,653.6 471.0,652.2 472.3,651.1 C474.7,649.0 476.3,646.1 478.6,644.0 C480.0,642.7 481.7,642.0 483.3,641.0"/>
<path class="m" d="M467.0,617.2 C462.2,619.5 456.9,621.0 452.5,624.0 C448.5,626.8 444.9,630.3 442.2,634.3 C439.1,639.0 436.8,644.4 435.3,649.8 C433.9,654.8 433.6,660.0 433.6,665.2 C433.6,669.8 433.7,674.6 435.3,679.0 C436.7,682.9 439.6,686.1 442.2,689.3 C444.2,691.8 446.7,693.8 449.0,696.1"/>
<path class="m" d="M463.6,628.3 C460.5,630.9 456.7,632.8 454.2,636.0 C450.6,640.7 447.6,646.0 445.6,651.5 C443.6,657.0 442.5,662.9 442.2,668.7 C441.9,673.3 442.9,677.9 443.9,682.4 C444.6,685.4 446.2,688.1 447.3,691.0"/>
<path class="m" d="M500.5,626.0 L524.6,637.5"/>
<path class="m" d="M446.0,692.0 C449.8,693.7 453.8,695.1 457.5,697.2 C463.8,700.7 469.8,704.6 475.8,708.7 C480.5,711.9 485.0,715.4 489.5,719.0 C492.7,721.5 495.2,725.0 498.7,727.0 C502.8,729.4 507.5,730.5 512.0,732.0 C516.6,733.5 521.4,734.7 526.1,736.1 C529.1,737.0 532.0,738.0 535.0,739.0"/>
<path class="m" d="M488.8,647.2 C485.4,650.9 481.4,654.1 478.6,658.2 C475.7,662.4 473.5,667.1 472.0,672.0 C470.4,677.2 469.5,682.6 469.6,688.0 C469.7,693.4 471.4,698.7 472.3,704.0"/>
<path class="m" d="M518.6,638.9 C514.3,641.0 509.5,642.4 505.7,645.3 C500.9,648.9 496.5,653.3 492.9,658.2 C489.5,662.9 486.9,668.1 485.1,673.6 C483.4,678.6 482.8,683.9 482.6,689.1 C482.4,694.2 482.9,699.4 483.9,704.5 C484.7,708.5 485.9,712.5 487.7,716.1 C489.4,719.4 491.5,722.5 494.2,725.1 C496.8,727.6 500.2,729.0 503.2,730.9"/>
<path class="l" d="M528.9,644.0 C523.3,646.2 517.1,647.1 512.2,650.5 C507.0,654.1 503.1,659.5 499.3,664.6 C495.7,669.4 492.4,674.5 490.3,680.1 C488.3,685.4 487.3,691.1 487.1,696.8 C486.9,702.0 487.4,707.4 489.0,712.3 C490.3,716.1 492.6,719.6 495.5,722.5 C498.4,725.4 502.3,726.8 505.7,729.0" stroke-dasharray="2.5 2"/>
<path class="t" d="M531.5,647.9 C525.9,650.0 519.8,651.0 514.8,654.3 C509.2,658.0 504.5,663.1 500.6,668.5 C497.6,672.7 495.7,677.7 494.2,682.6 C492.8,687.2 492.2,692.0 492.2,696.8 C492.2,701.6 492.7,706.5 494.2,711.0 C495.6,715.2 497.7,719.2 500.6,722.5 C503.0,725.3 506.6,726.8 509.6,729.0"/>
<path class="m" d="M534.1,649.2 C528.9,651.8 523.2,653.4 518.6,656.9 C513.5,660.8 509.2,665.7 505.7,671.0 C502.6,675.7 500.7,681.1 499.3,686.5 C498.1,691.1 497.8,696.0 498.0,700.7 C498.2,705.5 498.7,710.4 500.6,714.8 C502.3,718.7 505.3,722.1 508.3,725.1 C510.5,727.3 513.4,728.6 516.0,730.3"/>
<path class="m" d="M557.5,657.5 C552.1,658.3 546.4,658.0 541.3,660.0 C536.6,661.9 532.5,665.3 528.8,668.8 C525.3,672.0 522.4,675.9 520.0,680.0 C517.4,684.3 515.3,689.0 513.8,693.8 C512.3,698.7 511.5,703.7 511.3,708.8 C511.1,713.4 511.2,718.1 512.5,722.5 C513.3,725.4 515.5,727.8 517.5,730.0 C519.3,732.0 521.6,733.4 523.8,735.0 C525.8,736.4 527.9,737.7 530.0,739.0"/>
<path class="t" d="M558.5,659.5 C552.9,661.2 547.1,662.1 541.8,664.6 C537.1,666.9 532.5,669.8 528.9,673.6 C524.6,678.1 521.1,683.4 518.6,689.1 C516.7,693.5 516.2,698.4 516.0,703.2 C515.8,707.5 516.3,711.9 517.3,716.1 C518.0,719.2 519.8,722.0 521.0,725.0"/>
<ellipse class="f" cx="526.3" cy="644.6" rx="2.2" ry="1.6" transform="rotate(-20.0 526.3 644.6)"/>
<path class="m" d="M518.6,638.9 C523.8,639.3 529.0,639.4 534.1,640.2 C537.6,640.7 541.2,641.3 544.4,642.7 C547.2,643.9 549.7,646.0 552.1,647.9 C554.0,649.4 555.6,651.3 557.3,653.0 C559.0,654.7 560.7,656.5 562.4,658.2 C563.6,659.5 564.8,660.7 566.0,662.0"/>
<path class="m" d="M494.5,668.2 L516.0,679.0"/>
<path class="m" d="M493.5,671.4 L515.0,682.2"/>
<path class="m" d="M516.0,679.0 C516.5,679.7 517.7,680.2 517.5,681.0 C517.2,681.9 515.8,681.8 515.0,682.2"/>
<path class="t" d="M549.5,672.0 C549.1,673.0 548.3,673.9 548.3,675.0 C548.3,676.1 548.3,677.6 549.3,678.0 C550.1,678.3 551.0,676.9 551.0,676.0 C551.0,674.6 550.0,673.3 549.5,672.0"/>
<path class="l" d="M543.5,688.5 L549.0,685.0" style="stroke-width:2.2"/>
<path class="l" d="M550.5,684.0 L553.0,682.5" style="stroke-width:2.2"/>
<ellipse class="f" cx="556.0" cy="681.0" rx="1.2" ry="1.8" transform="rotate(30.0 556.0 681.0)"/>
<path class="m" d="M630.6,740.6 C631.2,739.6 632.1,738.6 632.5,737.5 C633.6,734.7 634.6,731.8 635.0,728.8 C635.6,724.7 635.8,720.5 635.6,716.3 C635.4,712.5 635.3,708.5 633.8,705.0 C632.5,702.0 630.0,699.6 627.5,697.5 C624.9,695.4 622.0,693.5 618.8,692.5 C615.4,691.4 611.7,690.9 608.1,691.3 C604.4,691.7 600.7,693.1 597.5,695.0 C592.9,697.7 588.7,701.1 585.0,705.0 C580.7,709.5 577.0,714.7 573.8,720.0 C571.0,724.7 568.6,729.8 566.9,735.0 C565.6,739.0 565.1,743.3 565.0,747.5 C564.9,751.7 565.2,756.0 566.3,760.0 C567.3,763.6 568.8,767.3 571.3,770.0 C574.0,772.9 577.6,774.8 581.3,776.3 C584.0,777.4 587.1,777.9 590.0,777.5 C594.3,776.9 598.7,775.7 602.5,773.5 C606.9,770.9 610.5,767.2 614.0,763.5 C616.9,760.5 619.6,757.2 621.5,753.5 C622.6,751.3 622.6,748.7 623.1,746.3"/>
<path class="m" d="M625.0,738.8 C626.0,736.3 627.5,733.9 628.1,731.3 C629.0,727.6 629.4,723.8 629.4,720.0 C629.4,715.8 629.2,711.6 628.1,707.5 C627.3,704.4 626.0,701.2 623.8,698.8 C621.9,696.6 619.0,695.3 616.3,694.4 C613.9,693.6 611.3,693.3 608.8,693.8 C604.8,694.6 600.9,696.0 597.5,698.1 C592.9,701.0 588.6,704.7 585.0,708.8 C581.5,712.9 578.6,717.6 576.3,722.5 C574.0,727.3 572.5,732.4 571.3,737.5 C570.4,741.6 569.9,745.8 570.0,750.0 C570.1,754.2 570.5,758.5 571.9,762.5 C573.1,765.8 575.1,768.8 577.5,771.3 C579.2,773.1 581.4,774.8 583.8,775.0 C587.2,775.3 590.7,774.2 593.8,772.8 C597.1,771.3 600.1,768.9 602.8,766.5 C606.2,763.5 609.3,760.0 612.3,756.5 C615.0,753.5 617.3,750.2 619.8,747.0"/>
<path class="m" d="M625.0,738.8 L630.6,740.6 L637.5,743.8"/>
<path class="m" d="M619.8,747.0 L623.1,745.6 L626.3,747.5 L635.0,750.6"/>
<path class="t" d="M634.5,727.5 L636.3,728.5"/>
<g transform="translate(662.5,740) rotate(-54)"><path class="m" d="M-9,-2.4 L3,-2.4 M-9,2.4 L3,2.4 M-9,-2.4 Q-11,0 -9,2.4 Q-7.5,0 -9,-2.4"/><path class="t" d="M-6.5,-2.4 L-5.5,2.4 M-4,-2.4 L-3,2.4 M-1.5,-2.4 L-0.5,2.4"/><path class="m" d="M3,-4.2 L8.5,-4.2 Q10.5,0 8.5,4.2 L3,4.2 Q1.5,0 3,-4.2 Z M8.5,-4.2 Q6.5,0 8.5,4.2"/></g>
<ellipse class="l" cx="640.5" cy="775.0" rx="5.8" ry="4.2" transform="rotate(30.0 640.5 775.0)"/>
<ellipse class="t" cx="641.0" cy="774.6" rx="2.6" ry="1.9" transform="rotate(30.0 641.0 774.6)"/>
<path class="l" d="M635.5,778.0 C636.3,778.8 636.9,780.1 638.0,780.5 C639.6,781.0 641.4,780.9 643.0,780.5 C644.3,780.2 645.3,779.2 646.5,778.5"/>
<ellipse class="l" cx="131.6" cy="453.2" rx="23.0" ry="10.3" transform="rotate(29.3 131.6 453.2)"/>
<path class="m" d="M111.3,451.7 C113.1,454.6 114.3,458.0 116.8,460.3 C120.2,463.4 124.4,465.5 128.6,467.4 C132.4,469.2 136.4,470.4 140.4,471.3 C143.2,472.0 146.4,473.1 149.1,472.1 C151.2,471.3 151.7,468.4 153.0,466.6"/>
<path class="m" d="M109.7,455.6 C111.5,458.2 112.8,461.3 115.2,463.5 C118.7,466.7 122.7,469.3 127.0,471.3 C131.2,473.3 135.8,474.7 140.4,475.3 C143.5,475.7 146.7,474.8 149.8,474.5"/>
<path class="t" d="M114.4,448.5 C116.5,448.1 118.6,447.2 120.7,447.3 C123.4,447.5 126.1,448.2 128.6,449.3 C131.9,450.7 135.0,452.7 138.0,454.8 C140.3,456.4 142.3,458.3 144.3,460.3 C145.5,461.5 146.4,463.0 147.5,464.3"/>
<ellipse class="f" cx="142.5" cy="465.3" rx="3.0" ry="1.8" transform="rotate(20.0 142.5 465.3)"/>
<path class="m" d="M110.5,444.5 C110.2,445.7 109.9,446.8 109.7,448.0 C109.1,451.3 108.3,454.6 108.1,458.0 C108.0,460.3 108.2,462.8 108.9,465.0 C109.8,467.8 111.3,470.4 112.9,472.9 C114.0,474.6 115.2,476.3 116.8,477.6 C119.3,479.7 122.1,481.5 125.0,483.0 C127.7,484.4 130.5,485.8 133.5,486.1 C138.1,486.5 142.6,485.4 147.2,485.0"/>
<path class="m" d="M152.2,463.5 C151.6,465.7 151.0,467.8 150.5,470.0 C150.2,471.5 150.1,473.0 149.8,474.5 C149.4,476.3 149.0,478.2 148.5,480.0 C148.1,481.7 147.6,483.3 147.2,485.0"/>
<path class="m" d="M108.5,463.0 C105.7,464.3 102.6,465.2 100.0,467.0 C97.2,468.9 95.2,472.0 92.4,473.9 C88.8,476.3 84.6,477.6 81.0,480.0 C74.3,484.5 67.8,489.4 61.5,494.5 C55.5,499.3 50.4,505.1 44.3,509.8 C42.3,511.4 40.0,512.7 37.5,513.2 C33.0,514.2 28.2,513.1 23.7,514.3 C22.1,514.7 20.8,516.3 20.3,517.8 C19.2,521.0 19.0,524.6 19.2,528.0 C19.4,531.1 19.9,534.4 21.4,537.2 C22.3,538.9 24.2,540.0 26.0,540.7 C28.2,541.6 30.6,542.2 32.9,541.8 C36.9,541.0 40.7,539.1 44.3,537.2 C52.1,533.0 59.4,527.8 67.2,523.5 C74.7,519.4 82.4,515.6 90.1,512.0 C95.3,509.5 100.4,506.5 106.1,505.2 C109.1,504.5 112.5,505.1 115.3,506.3 C118.0,507.5 120.5,509.6 122.2,512.0 C125.1,516.2 126.7,521.2 129.0,525.8 C132.0,531.9 135.0,538.1 138.2,544.1 C140.3,548.0 143.0,551.5 145.0,555.5 C145.7,556.9 145.2,558.9 146.2,560.1 C147.6,561.8 149.8,562.7 151.9,563.5 C154.9,564.6 157.9,565.8 161.1,565.8 C162.2,565.8 163.1,564.5 163.4,563.5 C163.8,562.0 163.1,560.5 162.9,559.0"/>
<path class="m" d="M147.2,485.0 C148.0,489.4 148.6,493.9 149.6,498.3 C151.7,507.5 154.2,516.6 156.5,525.8 C158.4,533.4 160.6,541.0 162.2,548.7 C162.9,552.1 163.0,555.6 163.4,559.0"/>
<path class="t" d="M145.5,555.0 C146.1,554.8 146.7,554.2 147.3,554.4 C150.5,555.2 153.4,556.9 156.5,557.8 C158.6,558.4 160.8,558.6 162.9,559.0"/>
<path class="h" d="M44.3,521.2 L101.6,481.1" stroke-dasharray="4 2"/>
<path class="h" d="M44.3,521.2 L110.7,491.4"/>
<path class="h" d="M131.3,498.3 L155.3,553.2" stroke-dasharray="4 2"/>
<path class="h" d="M136.0,497.0 L152.0,550.0" stroke-dasharray="3 2"/>
<path class="h" d="M115.0,482.5 L123.0,480.5 L131.0,484.0 L132.0,492.0 L124.0,498.5 L116.0,496.5 L112.0,489.0Z" stroke-dasharray="2.5 1.5"/>
<path class="l" d="M128.0,485.0 L130.0,488.0 L129.5,496.0 L128.0,497.0"/>
<path class="h" d="M118.0,489.0 L120.0,492.0 L123.0,489.0"/>
<path class="t" d="M276.4,392.7 L417.1,444.9 L451.5,345.5"/>
<path class="t" d="M276.4,392.7 L373.0,480.2 L304.0,548.0 L275.0,676.0"/>
<path class="t" d="M495.0,179.0 L536.0,165.0"/>
<path class="t" d="M514.6,366.0 L541.6,357.8"/>
<path class="t" d="M500.4,416.3 L543.0,406.0"/>
<path class="t" d="M503.0,460.0 L544.0,455.7"/>
<path class="t" d="M513.7,512.9 L542.7,504.3"/>
<path class="t" d="M421.3,519.3 L430.4,608.2"/>
<path class="t" d="M421.3,519.3 L465.1,556.7"/>
<path class="t" d="M389.2,527.0 L387.9,588.8"/>
<path class="t" d="M349.2,537.3 L344.0,563.0"/>
<path class="t" d="M296.0,672.0 L315.0,661.0"/>
<path class="t" d="M516.6,631.2 L537.2,613.2"/>
<path class="t" d="M612.8,655.5 L609.2,690.5"/>
<path class="t" d="M667.6,704.3 L664.4,729.8"/>
<path class="t" d="M648.5,769.0 L639.0,771.0"/>
<path class="t" d="M131.0,493.2 L161.9,501.7"/>
<path class="g" d="M542.1,159.4 C543.1,158.7 543.9,157.8 545.1,157.4 C545.9,157.0 546.9,156.8 547.7,157.1 C548.4,157.3 549.2,157.9 549.3,158.7 C549.5,159.5 549.1,160.4 548.5,161.0 C547.8,161.8 546.8,162.3 545.8,162.8 C545.3,163.1 544.7,163.0 544.2,163.1"/>
<path class="g" d="M544.2,163.1 C545.1,163.3 546.1,163.1 546.9,163.6 C547.6,164.0 548.3,164.9 548.3,165.7 C548.3,166.7 547.9,167.8 547.1,168.5 C546.3,169.4 545.1,169.9 543.9,170.1 C543.0,170.3 542.0,170.2 541.2,169.7 C540.5,169.3 540.2,168.4 539.8,167.8"/>
<path class="g" d="M547.0,352.0 L550.2,350.0 L552.8,348.5"/>
<path class="g" d="M552.8,348.5 L550.0,361.0"/>
<path class="g" d="M545.2,401.0 L548.4,399.0 L551.0,397.5"/>
<path class="g" d="M551.0,397.5 L548.2,410.0"/>
<path class="g" d="M556.2,401.0 L559.4,399.0 L562.0,397.5"/>
<path class="g" d="M562.0,397.5 L559.2,410.0"/>
<path class="g" d="M547.7,451.5 L550.9,449.5 L553.5,448.0"/>
<path class="g" d="M553.5,448.0 L550.8,460.5"/>
<path class="g" d="M558.8,450.3 C559.8,449.6 560.6,448.7 561.8,448.3 C562.6,447.9 563.6,447.7 564.4,448.0 C565.1,448.2 565.9,448.8 566.0,449.6 C566.2,450.4 565.8,451.3 565.2,451.9 C564.5,452.7 563.5,453.2 562.5,453.7 C562.0,454.0 561.4,453.9 560.9,454.0"/>
<path class="g" d="M560.9,454.0 C561.8,454.2 562.8,454.0 563.6,454.5 C564.3,454.9 565.0,455.8 565.0,456.6 C565.0,457.6 564.6,458.7 563.8,459.4 C563.0,460.3 561.8,460.8 560.6,461.0 C559.7,461.2 558.7,461.1 557.9,460.6 C557.2,460.2 556.9,459.3 556.5,458.7"/>
<path class="g" d="M556.1,502.1 C555.2,502.5 554.3,503.3 553.3,503.4 C552.5,503.5 551.6,503.3 551.0,502.8 C550.3,502.1 549.9,501.1 550.0,500.2 C550.1,499.2 550.7,498.2 551.5,497.5 C552.2,496.9 553.3,496.5 554.2,496.5 C555.1,496.5 556.0,496.8 556.5,497.5 C557.0,498.3 556.9,499.3 556.8,500.2 C556.5,501.8 556.0,503.3 555.3,504.6 C554.7,505.8 554.0,506.9 553.0,507.8 C552.2,508.4 551.2,509.0 550.2,509.0 C549.4,509.0 548.7,508.2 548.0,507.8"/>
<path class="g" d="M412.5,505.6 C413.3,504.8 413.9,503.8 414.8,503.2 C415.4,502.8 416.3,502.5 417.1,502.5 C417.9,502.5 418.7,502.9 419.1,503.5 C419.5,504.1 419.4,505.0 419.1,505.7 C418.7,506.7 417.9,507.5 417.1,508.2 C416.1,509.2 414.7,509.8 413.7,510.8 C412.4,512.0 411.3,513.4 410.0,514.7"/>
<path class="g" d="M410.0,514.7 L417.4,514.7"/>
<path class="g" d="M381.0,512.1 L384.2,510.1 L386.8,508.6"/>
<path class="g" d="M386.8,508.6 L384.0,521.1"/>
<path class="g" d="M395.4,521.1 L398.2,508.6 L390.0,517.4 L398.3,517.4"/>
<path class="g" d="M336.7,523.0 L339.9,521.0 L342.5,519.5"/>
<path class="g" d="M342.5,519.5 L339.8,532.0"/>
<path class="g" d="M349.0,522.8 C349.8,522.1 350.4,521.1 351.3,520.5 C351.9,520.1 352.8,519.8 353.6,519.8 C354.4,519.8 355.2,520.2 355.6,520.8 C356.0,521.4 355.9,522.3 355.6,523.0 C355.2,524.0 354.4,524.8 353.6,525.5 C352.6,526.5 351.2,527.1 350.2,528.1 C348.9,529.3 347.8,530.7 346.5,532.0"/>
<path class="g" d="M346.5,532.0 L353.9,532.0"/>
<path class="g" d="M281.9,678.2 C282.7,677.4 283.3,676.4 284.3,675.8 C285.0,675.3 285.9,675.0 286.8,675.0 C287.6,675.0 288.5,675.4 288.9,676.0 C289.3,676.7 289.2,677.7 288.9,678.4 C288.5,679.4 287.6,680.3 286.8,681.1 C285.7,682.1 284.3,682.8 283.2,683.8 C281.8,685.1 280.6,686.6 279.3,688.0"/>
<path class="g" d="M279.3,688.0 L287.1,688.0"/>
<path class="g" d="M551.6,602.7 L545.6,602.7 L543.5,608.1"/>
<path class="g" d="M543.5,608.1 C544.5,607.9 545.5,607.4 546.5,607.3 C547.4,607.3 548.5,607.3 549.2,607.9 C549.9,608.4 550.2,609.5 550.2,610.4 C550.1,611.6 549.7,612.8 549.0,613.7 C548.1,614.6 546.9,615.3 545.7,615.6 C544.8,615.8 543.7,615.7 542.8,615.2 C542.2,614.8 542.0,613.9 541.6,613.3"/>
<path class="g" d="M609.3,651.6 L612.0,639.4 L604.0,647.9 L612.1,647.9"/>
<path class="g" d="M663.0,691.0 L666.2,689.0 L668.8,687.5"/>
<path class="g" d="M668.8,687.5 L666.0,700.0"/>
<path class="g" d="M676.5,693.1 C675.7,692.7 674.4,692.7 674.0,691.9 C673.6,691.0 674.0,689.7 674.7,689.0 C675.4,688.1 676.6,687.6 677.8,687.5 C678.7,687.5 679.8,687.9 680.2,688.8 C680.6,689.6 680.2,690.9 679.6,691.6 C678.9,692.5 677.5,692.6 676.5,693.1 C675.3,693.7 673.8,694.0 672.9,695.0 C672.1,695.8 671.5,697.1 671.9,698.1 C672.3,699.2 673.6,699.9 674.8,700.0 C676.0,700.1 677.4,699.4 678.3,698.5 C679.1,697.7 679.7,696.3 679.3,695.2 C678.9,694.1 677.4,693.8 676.5,693.1"/>
<path class="g" d="M654.0,767.1 L657.0,765.2 L659.4,763.8"/>
<path class="g" d="M659.4,763.8 L656.8,775.6"/>
<path class="g" d="M669.5,769.1 C668.6,769.5 667.8,770.2 666.9,770.3 C666.1,770.4 665.2,770.2 664.7,769.7 C664.0,769.1 663.7,768.2 663.8,767.3 C663.9,766.4 664.4,765.4 665.2,764.7 C665.8,764.1 666.8,763.8 667.7,763.8 C668.5,763.8 669.4,764.1 669.9,764.7 C670.4,765.5 670.3,766.5 670.1,767.3 C669.9,768.8 669.4,770.2 668.8,771.5 C668.2,772.6 667.5,773.6 666.6,774.4 C665.8,775.0 664.9,775.6 664.0,775.6 C663.1,775.6 662.5,774.8 661.8,774.4"/>
<path class="g" d="M174.3,493.6 C173.8,493.1 173.5,492.3 172.7,492.1 C171.9,491.9 170.8,492.0 170.1,492.5 C168.8,493.4 167.9,494.7 167.1,496.0 C166.4,497.2 165.8,498.5 165.5,499.8 C165.2,501.0 165.0,502.4 165.5,503.5 C165.9,504.3 167.0,504.8 168.0,505.0 C168.9,505.2 169.9,504.9 170.7,504.4 C171.6,503.7 172.4,502.8 172.8,501.8 C173.2,500.9 173.4,499.7 172.9,498.8 C172.5,498.0 171.5,497.7 170.6,497.5 C169.7,497.4 168.8,497.6 168.0,498.0 C167.1,498.4 166.6,499.2 165.9,499.8"/>
</svg>
</body></html>
